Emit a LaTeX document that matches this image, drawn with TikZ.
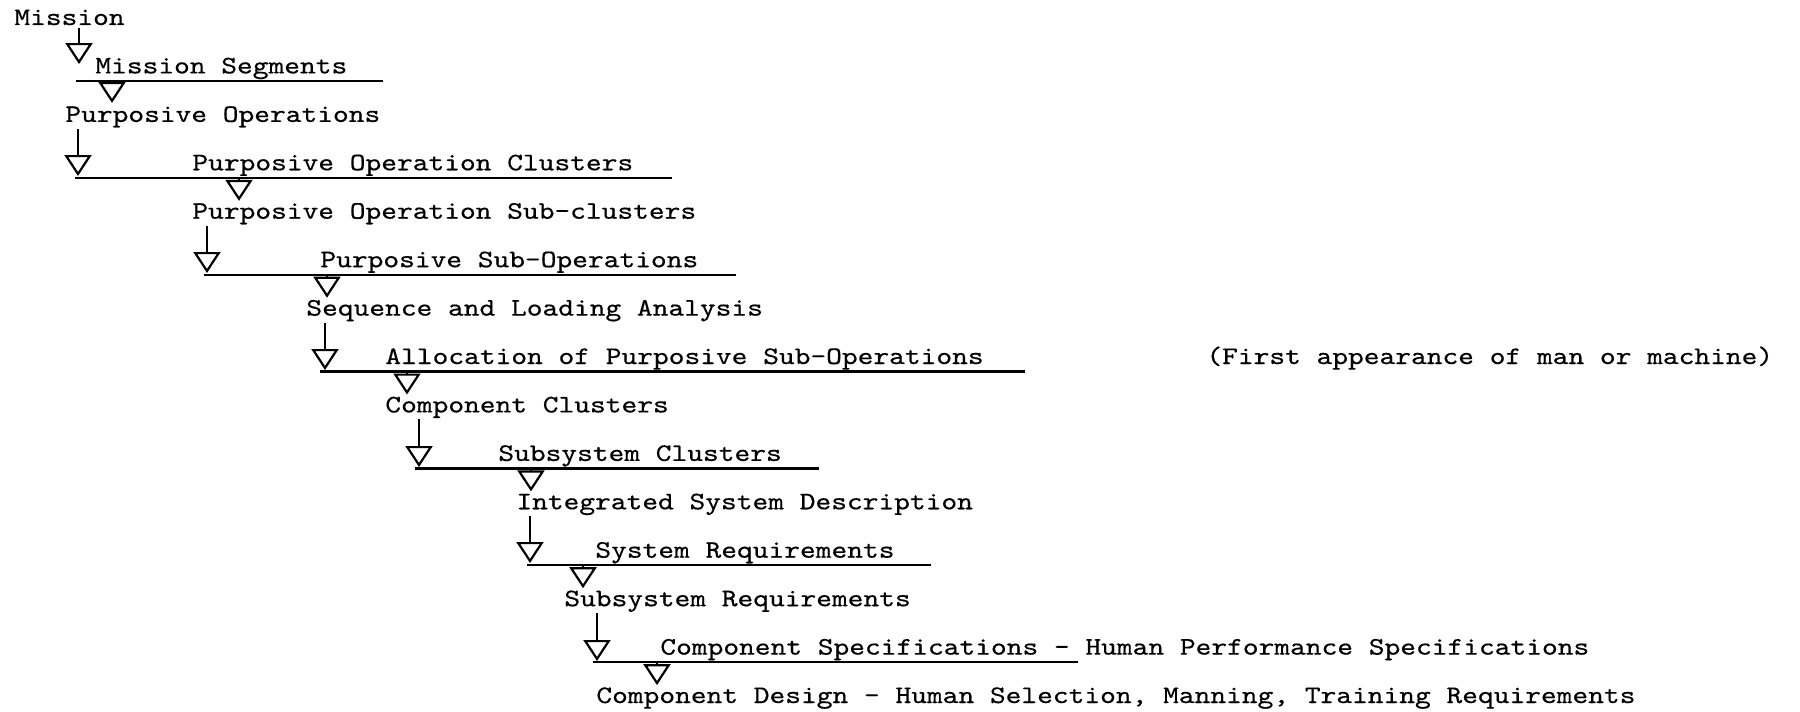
\documentclass[tikz,border=0pt]{standalone}
\usepackage{fontspec}
\newfontfamily\typer[Extension=.otf, FakeStretch=1.19, FakeBold=0.45]{lmmono10-regular}
\usetikzlibrary{arrows.meta}

\begin{document}
\begin{tikzpicture}[x=0.5pt,y=-0.5pt,
  txt/.style={anchor=base west, inner sep=0pt,
    font=\typer\fontsize{12.6pt}{15pt}\selectfont},
  uline/.style={line width=1.1pt},
  dnarrow/.style={line width=1.1pt,
    -{Triangle[open, length=10.5pt, width=13.5pt]}}]

% page
\useasboundingbox[fill=white] (0,0) rectangle (1800,712);

% stages of the analysis
\node[txt] (t1)  at (14,25)     {Mission};
\node[txt] (t2)  at (95,73.4)   {Mission Segments};
\node[txt] (t3)  at (65,121.9)  {Purposive Operations};
\node[txt] (t4)  at (192,170.3) {Purposive Operation Clusters};
\node[txt] (t5)  at (192,218.7) {Purposive Operation Sub-clusters};
\node[txt] (t6)  at (320,267.2) {Purposive Sub-Operations};
\node[txt] (t7)  at (306,315.6) {Sequence and Loading Analysis};
\node[txt] (t8)  at (385,364.0) {Allocation of Purposive Sub-Operations};
\node[txt] (note) at (1206,364.0) {(First appearance of man or machine)};
\node[txt] (t9)  at (385,412.4) {Component Clusters};
\node[txt] (t10) at (498,460.9) {Subsystem Clusters};
\node[txt] (t11) at (516,509.3) {Integrated System Description};
\node[txt] (t12) at (595,557.7) {System Requirements};
\node[txt] (t13) at (564,606.2) {Subsystem Requirements};
\node[txt] (t14) at (660,654.6) {Component Specifications - Human Performance Specifications};
\node[txt] (t15) at (596,703.0) {Component Design - Human Selection, Manning, Training Requirements};

% rules under the grouping stages
\coordinate (u2s)  at (76,80.9);   \coordinate (u2e)  at (383,80.9);
\coordinate (u4s)  at (75,177.8);  \coordinate (u4e)  at (672,177.8);
\coordinate (u6s)  at (204,274.7); \coordinate (u6e)  at (736,274.7);
\coordinate (u8s)  at (320,371.5); \coordinate (u8e)  at (1025,371.5);
\coordinate (u10s) at (415,468.4); \coordinate (u10e) at (819,468.4);
\coordinate (u12s) at (527,565.2); \coordinate (u12e) at (931,565.2);
\coordinate (u14s) at (593,662.1); \coordinate (u14e) at (1078,662.1);
\foreach \u in {2,4,6,8,10,12,14}
  \draw[uline] (u\u s) -- (u\u e);

% long arrows from a stage down to the next rule
\coordinate (a1)  at (79,64);
\coordinate (a3)  at (78,176);
\coordinate (a5)  at (207,273);
\coordinate (a7)  at (325,370);
\coordinate (a9)  at (419,467);
\coordinate (a11) at (530,563);
\coordinate (a13) at (597,661);
\draw[dnarrow] ([yshift=-1pt]t1.south -| a1) -- (a1);
\foreach \a in {3,5,7,9,11,13}
  \draw[dnarrow] ([yshift=-0.5pt]t\a.south -| a\a) -- (a\a);

% short arrows from a rule down to the next stage
\coordinate (s2)  at (112,102.9);
\coordinate (s4)  at (239,200.8);
\coordinate (s6)  at (327,297.7);
\coordinate (s8)  at (407,394.5);
\coordinate (s10) at (531,491.4);
\coordinate (s12) at (583,588.2);
\coordinate (s14) at (657,685.1);
\foreach \s in {2,4,6,8,10,12,14}
  \draw[dnarrow] (u\s s -| s\s) -- (s\s);

\end{tikzpicture}
\end{document}
